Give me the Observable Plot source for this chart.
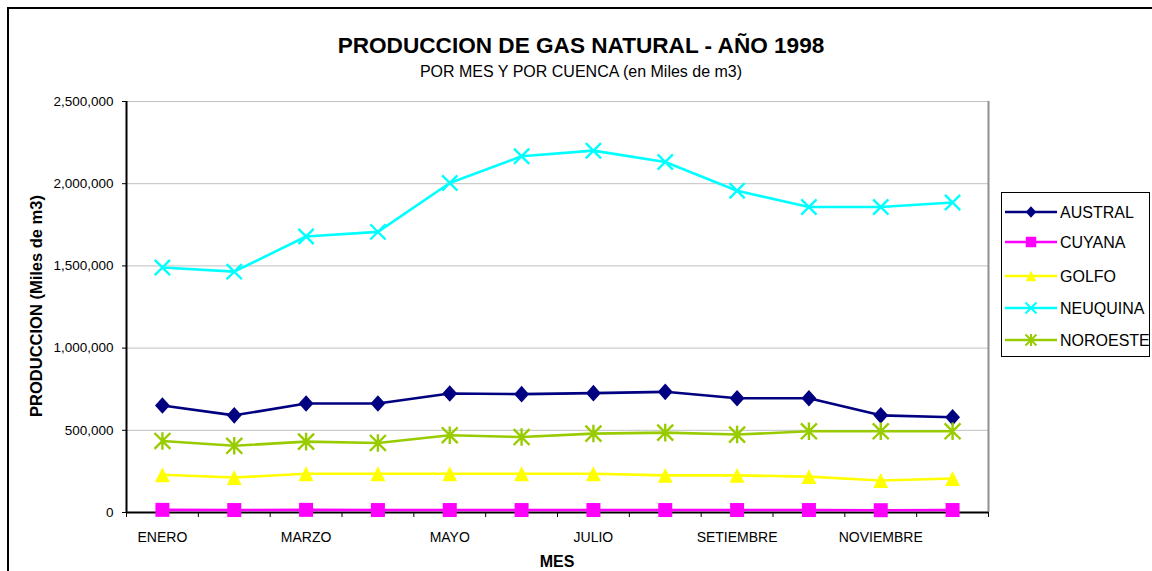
<!DOCTYPE html>
<html>
<head>
<meta charset="utf-8">
<script src="https://cdn.jsdelivr.net/npm/d3@7"></script>
<script src="https://cdn.jsdelivr.net/npm/@observablehq/plot@0.6"></script>
<style>
  html, body { margin: 0; padding: 0; background: #fff; width: 1152px; height: 571px; overflow: hidden;
    font-family: "Liberation Sans", Arial, sans-serif; color: #000; }
  #wrap { position: relative; width: 1152px; height: 571px; overflow: hidden; }
  #border { position: absolute; left: 7px; top: 7px; width: 1200px; height: 700px; border: 2px solid #000; box-sizing: border-box; }
  #chart { position: absolute; left: 0; top: 0; }
  .title { position: absolute; left: 0; width: 1162px; text-align: center; white-space: nowrap; }
  #t1 { top: 35px; font-size: 22.6px; line-height: 22px; font-weight: bold; }
  #t2 { top: 64px; font-size: 16px; line-height: 16px; }
  #ytitle { position: absolute; left: 36px; top: 306px; font-size: 16.5px; line-height: 16px; font-weight: bold;
    white-space: nowrap; transform: translate(-50%, -50%) rotate(-90deg); }
  #xtitle { position: absolute; left: 557px; top: 554px; font-size: 16px; line-height: 16px; font-weight: bold;
    transform: translateX(-50%); white-space: nowrap; }
  #legend { position: absolute; left: 0; top: 0; pointer-events: none; }
</style>
</head>
<body>
<div id="wrap">
  <div id="border"></div>
  <div id="chart"></div>
  <div class="title" id="t1">PRODUCCION DE GAS NATURAL - AÑO 1998</div>
  <div class="title" id="t2">POR MES Y POR CUENCA (en Miles de m3)</div>
  <div id="ytitle">PRODUCCION (Miles de m3)</div>
  <div id="xtitle">MES</div>
</div>
<script>
// ---- data ----
const months = ["ENERO","FEBRERO","MARZO","ABRIL","MAYO","JUNIO","JULIO","AGOSTO","SETIEMBRE","OCTUBRE","NOVIEMBRE","DICIEMBRE"];
const xLabels = ["ENERO","MARZO","MAYO","JULIO","SETIEMBRE","NOVIEMBRE"];
const seriesNames = ["AUSTRAL","CUYANA","GOLFO","NEUQUINA","NOROESTE"];
const seriesColors = ["#000080","#FF00FF","#FFFF00","#00FFFF","#99CC00"];
const austral  = [651000, 591000, 663000, 663000, 724000, 720000, 726000, 734000, 695000, 695000, 591000, 579000];
const cuyana   = [16000, 15000, 16000, 15000, 15000, 15000, 15000, 15000, 15000, 15000, 14000, 15000];
const golfo    = [230000, 213000, 236000, 236000, 236000, 236000, 236000, 226000, 226000, 218000, 195000, 207000];
const neuquina = [1490000, 1465000, 1679000, 1707000, 2004000, 2167000, 2201000, 2132000, 1957000, 1858000, 1858000, 1886000];
const noroeste = [435000, 406000, 431000, 423000, 470000, 459000, 480000, 486000, 474000, 494000, 494000, 494000];
const yTicks = [0, 500000, 1000000, 1500000, 2000000, 2500000];

// ---- marker shapes ----
const diamondSym = { draw(c, size) { const s = Math.sqrt(size) / 2; c.moveTo(0, -s * 1.12); c.lineTo(s, 0); c.lineTo(0, s * 1.12); c.lineTo(-s, 0); c.closePath(); } };
const squareSym  = { draw(c, size) { const s = Math.sqrt(size) / 2; c.moveTo(-s, -s); c.lineTo(s, -s); c.lineTo(s, s); c.lineTo(-s, s); c.closePath(); } };
const triSym     = { draw(c, size) { const s = Math.sqrt(size) / 2; c.moveTo(0, -s); c.lineTo(s, s); c.lineTo(-s, s); c.closePath(); } };
const timesSym   = { draw(c, size) { const s = Math.sqrt(size) / 2; c.moveTo(-s, -s); c.lineTo(s, s); c.moveTo(-s, s); c.lineTo(s, -s); } };
const starSym    = { draw(c, size) { const s = Math.sqrt(size) / 2; c.moveTo(-s, -s); c.lineTo(s, s); c.moveTo(-s, s); c.lineTo(s, -s); c.moveTo(0, -s * 1.1); c.lineTo(0, s * 1.1); } };

const seriesValues = [austral, cuyana, golfo, neuquina, noroeste];
const seriesSym = [diamondSym, squareSym, triSym, timesSym, starSym];
const seriesFilled = [true, true, true, false, false];
const seriesR = [8.4, 7.9, 8.4, 8.6, 9];

const data = seriesNames.flatMap((name, k) =>
  seriesValues[k].map((v, i) => ({ series: name, month: months[i], pos: i + 0.5, value: v })));

const dotMarks = seriesNames.map((name, k) =>
  Plot.dot(data.filter(d => d.series === name), {
    x: "pos", y: "value", r: seriesR[k], symbol: seriesSym[k],
    fill: seriesFilled[k] ? seriesColors[k] : "none",
    stroke: seriesFilled[k] ? "none" : seriesColors[k],
    strokeWidth: seriesFilled[k] ? 0 : 2.4
  }));

const labelPos = xLabels.map(l => months.indexOf(l) + 0.5);

const chart = Plot.plot({
  width: 1152, height: 571,
  marginLeft: 126, marginRight: 164, marginTop: 101, marginBottom: 59,
  style: { fontFamily: '"Liberation Sans", Arial, sans-serif', fontSize: "14px", background: "transparent", overflow: "visible" },
  x: { type: "linear", domain: [0, months.length], axis: null },
  y: { domain: [0, 2500000], axis: null },
  color: { domain: seriesNames, range: seriesColors },
  marks: [
    Plot.gridY(yTicks.filter(v => v > 0), { stroke: "#c0c0c0", strokeOpacity: 1, strokeWidth: 1 }),
    Plot.ruleX([months.length], { stroke: "#909090", strokeWidth: 2 }),
    Plot.ruleX([0], { stroke: "#000", strokeWidth: 2 }),
    Plot.ruleY([0], { stroke: "#000", strokeWidth: 2 }),
    Plot.axisY({ ticks: yTicks, tickFormat: d3.format(","), tickSize: 4, tickPadding: 9, label: null, fontSize: 13.5 }),
    Plot.axisX({ ticks: d3.range(0, months.length + 1), tickFormat: () => "", tickSize: 5, label: null }),
    Plot.axisX({ ticks: labelPos, tickFormat: d => months[Math.floor(d)], tickSize: 0, tickPadding: 19.5, label: null, fontSize: 14 }),
    Plot.line(data, { x: "pos", y: "value", z: "series", stroke: "series", strokeWidth: 2.6 }),
    ...dotMarks
  ]
});
document.getElementById("chart").appendChild(chart);

// ---- legend ----
const legendYs = [212, 242, 276, 308, 340];
const svg = d3.select("#wrap").append("svg").attr("id", "legend").attr("width", 1152).attr("height", 571);
svg.append("rect").attr("x", 1001.5).attr("y", 192.5).attr("width", 148).attr("height", 164)
  .attr("fill", "#fff").attr("stroke", "#000").attr("stroke-width", 1);
seriesNames.forEach((name, k) => {
  const y = legendYs[k];
  const g = svg.append("g");
  g.append("line").attr("x1", 1005).attr("x2", 1057).attr("y1", y).attr("y2", y)
    .attr("stroke", seriesColors[k]).attr("stroke-width", 2.5);
  g.append("path").attr("transform", `translate(1031,${y})`)
    .attr("d", d3.symbol().type(seriesSym[k]).size(seriesFilled[k] ? 110 : 120)())
    .attr("fill", seriesFilled[k] ? seriesColors[k] : "none")
    .attr("stroke", seriesFilled[k] ? "none" : seriesColors[k])
    .attr("stroke-width", 2);
  g.append("text").attr("x", 1060).attr("y", y).attr("dy", "0.36em")
    .attr("font-family", '"Liberation Sans", Arial, sans-serif').attr("font-size", 16)
    .text(name);
});
</script>
</body>
</html>
